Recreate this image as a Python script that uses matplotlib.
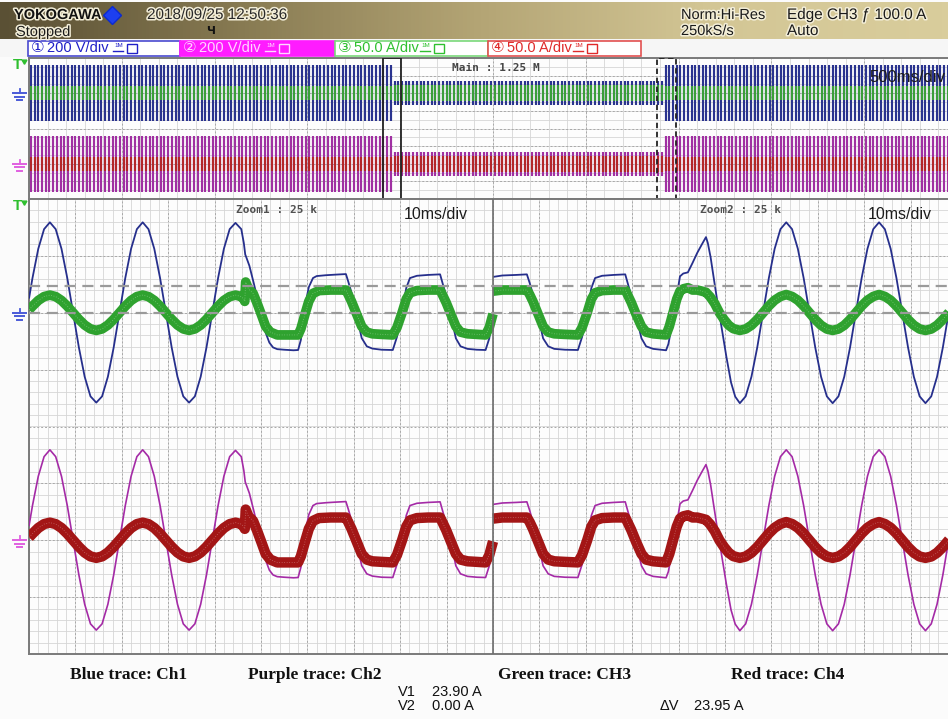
import numpy as np
import matplotlib
matplotlib.use("Agg")
import matplotlib.pyplot as plt
from matplotlib.patches import Rectangle
from matplotlib.colors import LinearSegmentedColormap
import matplotlib.patheffects as pe

# ---------------- data ----------------
channel_nums = ["\u2460", "\u2461", "\u2462", "\u2463"]
channel_scales = ["200 V/div", "200 V/div", "50.0 A/div", "50.0 A/div"]
units_per_div = [200.0, 200.0, 50.0, 50.0]      # Ch1, Ch2 (V) ; Ch3, Ch4 (A)
ground_div = [2.0, -2.0, 2.0, -2.0]

header_brand = "YOKOGAWA"
header_date = "2018/09/25 12:50:36"
header_state = "Stopped"
header_acq = ["Norm:Hi-Res", "250kS/s"]
header_trig = ["Edge CH3 \u0192 100.0 A", "Auto"]
main_label = "Main : 1.25 M"
main_timebase = "500ms/div"
zoom_labels = ["Zoom1 : 25 k", "Zoom2 : 25 k"]
zoom_timebase = "10ms/div"
legend_texts = ["Blue trace: Ch1", "Purple trace: Ch2", "Green trace: CH3", "Red trace: Ch4"]
cursor_names = ["V1", "V2", "\u0394V"]
cursor_values = ["23.90 A", "0.00 A", "23.95 A"]
cursor_levels_a = [23.9, 0.0]   # on Ch3

# main window: 5 s record, 50 Hz cycles drawn as envelope stripes
main_record_s = 5.0
main_fundamental_hz = 50
main_seg_edges_s = [0.0, 1.9525, 3.4225, 5.0]
ch1_main_peak = [318, 135, 318]
ch2_main_peak = [318, 135, 318]
ch3_main_peak = [20, 22, 20]
ch4_main_peak = [20, 22, 20]
zoom_centers_s = [1.956, 3.435]
zoom_span_s = 0.1

# zoom windows (t in ms, value in V or A)
ch1_zoom1 = [(0.0, 50), (0.75, 122), (2.0, 225), (3.25, 294), (4.5, 318), (5.75, 294), (7.0, 225),
             (8.25, 122), (9.5, 0), (10.75, -122), (12.0, -225), (13.25, -294), (14.5, -316),
             (15.75, -294), (17.0, -225), (18.25, -122), (19.5, 0), (20.75, 122), (22.0, 225),
             (23.25, 294), (24.5, 318), (25.75, 294), (27.0, 225), (28.25, 122), (29.5, 0),
             (30.75, -122), (32.0, -225), (33.25, -294), (34.5, -316), (35.75, -294), (37.0, -225),
             (38.25, -122), (39.5, 0), (40.75, 122), (42.0, 225), (43.25, 294), (44.5, 316),
             (45.75, 294), (46.3, 245), (46.6, 205), (46.9, 192), (47.5, 165), (48.5, 100),
             (49.5, 30), (50.3, -20), (51.0, -70), (51.8, -105), (52.6, -122), (53.5, -128),
             (55.0, -130), (57.0, -132), (58.0, -131), (58.6, -95), (59.5, 25), (60.3, 90),
             (61.2, 122), (62.0, 129), (64.0, 132), (66.0, 134), (68.3, 136), (68.8, 110),
             (69.5, 71), (70.6, -8), (71.7, -89), (72.8, -118), (74.0, -126), (76.0, -130),
             (78.4, -131), (79.3, -85), (80.4, 0), (81.3, 87), (82.1, 122), (83.6, 130),
             (86.0, 133), (88.6, 135), (89.2, 100), (89.9, 60), (91.0, -15), (92.0, -90),
             (93.0, -118), (94.5, -127), (96.5, -130), (98.4, -131), (99.2, -90), (100.0, -5)]
ch3_zoom1 = [(0.0, 2.5), (0.75, 5.8), (2.0, 10.8), (3.25, 14.2), (4.5, 15.5), (5.75, 14.2),
             (7.0, 10.8), (8.25, 5.8), (9.5, 0), (10.75, -5.8), (12.0, -10.8), (13.25, -14.2),
             (14.5, -15.5), (15.75, -14.2), (17.0, -10.8), (18.25, -5.8), (19.5, 0), (20.75, 5.8),
             (22.0, 10.8), (23.25, 14.2), (24.5, 15.5), (25.75, 14.2), (27.0, 10.8), (28.25, 5.8),
             (29.5, 0), (30.75, -5.8), (32.0, -10.8), (33.25, -14.2), (34.5, -15.5), (35.75, -14.2),
             (37.0, -10.8), (38.25, -5.8), (39.5, 0), (40.75, 5.8), (42.0, 10.8), (43.25, 14.2),
             (44.5, 15.5), (45.75, 14.2), (46.3, 12), (46.5, 10), (46.7, 27), (47.3, 21),
             (48.3, 17), (49.2, 8), (50.2, -3), (51.0, -12), (52.0, -17), (53.5, -19.5),
             (56.0, -19.5), (58.0, -19.5), (58.6, -14), (59.5, -1), (60.3, 10), (61.2, 17),
             (62.5, 19.5), (65.0, 20), (68.3, 20), (68.8, 16), (69.5, 10), (70.6, -1), (71.7, -12),
             (72.8, -17), (74.0, -18.5), (76.0, -19), (78.4, -19.5), (79.3, -13), (80.4, 0),
             (81.3, 12), (82.1, 17.5), (83.6, 19.5), (86.0, 20), (88.6, 20), (89.2, 15), (89.9, 9),
             (91.0, -2), (92.0, -12), (93.0, -17), (94.5, -18.5), (96.5, -19), (98.4, -19.5),
             (99.2, -13), (100.0, -1)]
ch1_zoom2 = [(0.0, 126), (2.0, 131), (5.0, 133), (7.3, 135), (7.9, 105), (8.6, 65), (9.7, -10),
             (10.8, -90), (11.9, -118), (13.2, -127), (15.5, -130), (18.3, -131), (19.2, -85),
             (20.3, 0), (21.2, 87), (22.0, 122), (23.5, 130), (26.0, 133), (28.5, 135), (29.1, 100),
             (29.8, 60), (30.9, -15), (32.0, -90), (33.0, -118), (34.5, -127), (37.3, -132),
             (37.8, -110), (38.6, -40), (39.4, 40), (40.3, 128), (41.0, 138), (42.0, 142),
             (43.0, 175), (44.0, 210), (45.0, 240), (45.9, 266), (46.3, 245), (46.9, 195),
             (47.5, 130), (48.3, 45), (49.3, -55), (50.3, -155), (51.3, -245), (52.2, -295),
             (53.2, -318), (54.45, -294), (55.7, -225), (56.95, -122), (58.2, 0), (59.45, 122),
             (60.7, 225), (61.95, 294), (63.2, 318), (64.45, 294), (65.7, 225), (66.95, 122),
             (68.2, 0), (69.45, -122), (70.7, -225), (71.95, -294), (73.2, -318), (74.45, -294),
             (75.7, -225), (76.95, -122), (78.2, 0), (79.45, 122), (80.7, 225), (81.95, 294),
             (83.2, 318), (84.45, 294), (85.7, 225), (86.95, 122), (88.2, 0), (89.45, -122),
             (90.7, -225), (91.95, -294), (93.2, -318), (94.45, -294), (95.7, -225), (96.95, -122),
             (98.2, 0), (99.45, 122), (100.0, 170)]
ch3_zoom2 = [(0.0, 19), (2.0, 20), (5.0, 20), (7.3, 20), (7.9, 16), (8.6, 10), (9.7, -1),
             (10.8, -12), (11.9, -17), (13.2, -18.5), (15.5, -19), (18.3, -19.5), (19.2, -13),
             (20.3, 0), (21.2, 12), (22.0, 17.5), (23.5, 19.5), (26.0, 20), (28.5, 20), (29.1, 15),
             (29.8, 9), (30.9, -2), (32.0, -12), (33.0, -17), (34.5, -18.5), (37.3, -19.5),
             (38.0, -12), (38.8, 0), (39.6, 12), (40.3, 19), (41.0, 21), (42.0, 22), (43.0, 20),
             (44.0, 20), (45.0, 19), (45.9, 18), (46.8, 14), (47.8, 8), (48.8, 0), (49.8, -6),
             (50.8, -11), (51.8, -14), (53.2, -15.5), (54.45, -14.3), (55.7, -11), (56.95, -6),
             (58.2, 0), (59.45, 6), (60.7, 11), (61.95, 14.3), (63.2, 16), (64.45, 14.3),
             (65.7, 11), (66.95, 6), (68.2, 0), (69.45, -6), (70.7, -11), (71.95, -14.3),
             (73.2, -15.5), (74.45, -14.3), (75.7, -11), (76.95, -6), (78.2, 0), (79.45, 6),
             (80.7, 11), (81.95, 14.3), (83.2, 16), (84.45, 14.3), (85.7, 11), (86.95, 6),
             (88.2, 0), (89.45, -6), (90.7, -11), (91.95, -14.3), (93.2, -15.5), (94.45, -14.3),
             (95.7, -11), (96.95, -6), (98.2, 0), (99.45, 6), (100.0, 8)]
# Ch2 / Ch4 follow Ch1 / Ch3 in this capture
ch2_zoom1 = list(ch1_zoom1)
ch2_zoom2 = list(ch1_zoom2)
ch4_zoom1 = list(ch3_zoom1)
ch4_zoom2 = list(ch3_zoom2)

# ---------------- style ----------------
W, H, DPI = 948, 719, 100
C_BLUE, C_PURPLE, C_GREEN, C_RED = "#262f8c", "#a42aa6", "#2fa22f", "#a31616"
C_BLUE_M, C_PURPLE_M, C_GREEN_M, C_RED_M = "#2a338f", "#a030a2", "#3a9e3a", "#b3262a"
SANS = ["Liberation Sans", "DejaVu Sans"]
MONO = ["DejaVu Sans Mono"]
SYM = ["DejaVu Sans", "Noto Sans CJK JP"]

fig = plt.figure(figsize=(W / DPI, H / DPI), dpi=DPI)
fig.patch.set_facecolor("#fbfbfb")

ov = fig.add_axes([0, 0, 1, 1])
ov.set_zorder(-1)
ov.axis("off")

# header gradient
grad = np.linspace(0, 1, 256)[None, :]
hcmap = LinearSegmentedColormap.from_list("hdr", ["#5a5034", "#877a52", "#b3a474", "#d3c695", "#d9cd9c"])
ov.imshow(grad, cmap=hcmap, extent=[0, W, 39, 2], aspect="auto", interpolation="bilinear")
ov.set_xlim(0, W)
ov.set_ylim(H, 0)

halo = [pe.withStroke(linewidth=2.2, foreground="#f3eed8")]
ov.text(14, 15, header_brand, fontfamily=SANS, fontweight="bold", fontsize=10.5, va="center",
        color="#111111", path_effects=halo)
ov.plot([112], [15], marker="D", markersize=9, color="#1d3ff0", mec="#0b2ad0")
ov.text(147, 15, header_date, fontfamily=SANS, fontsize=11, va="center", color="#2a2a2a",
        path_effects=halo)
ov.text(16, 32, header_state, fontfamily=SANS, fontsize=10.5, va="center", color="#1a1a1a",
        path_effects=halo)
ov.text(211, 31, "\u0427", fontfamily=SYM, fontsize=8, fontweight="bold", ha="center", va="center",
        color="#111111")
for i, s in enumerate(header_acq):
    ov.text(681, 15 + 16 * i, s, fontfamily=SANS, fontsize=10.5, va="center", color="#1a1a1a",
            path_effects=halo)
for i, s in enumerate(header_trig):
    ov.text(787, 15 + 16 * i, s, fontfamily=SANS, fontsize=11, va="center", color="#1a1a1a",
            path_effects=halo)

# channel bar
ov.add_patch(Rectangle((0, 39), W, 18, facecolor="#f6f6f6", edgecolor="none"))
box_x = [28, 180, 335, 488]
box_w = [152, 155, 153, 153]
box_face = ["#ffffff", "#ff1cff", "#ffffff", "#ffffff"]
box_edge = ["#4a4ad0", "#ff1cff", "#7ad87a", "#e25050"]
box_text = ["#2020c8", "#ffd6ff", "#2fc02f", "#e02a2a"]
for i in range(4):
    ov.add_patch(Rectangle((box_x[i], 40.5), box_w[i], 15, facecolor=box_face[i],
                           edgecolor=box_edge[i], lw=1.2))
    ov.text(box_x[i] + 3, 48, channel_nums[i], fontfamily=SYM, fontsize=11, va="center",
            color=box_text[i])
    ov.text(box_x[i] + 19, 48, channel_scales[i], fontfamily=SANS, fontsize=10.5, va="center",
            color=box_text[i])
    ov.text(box_x[i] + 86, 45.5, "1M", fontfamily=SANS, fontsize=4.5, va="center",
            color=box_text[i])
    ov.plot([box_x[i] + 85, box_x[i] + 95], [50.5, 50.5], color=box_text[i], lw=1)
    ov.add_patch(Rectangle((box_x[i] + 99, 43.5), 10, 9, facecolor="none",
                           edgecolor=box_text[i], lw=1))

# ---------------- axes ----------------
left_px, right_px = 29, 957
main_top, main_bot = 58, 199
zoom_top, zoom_bot = 199, 654
ax_main = fig.add_axes([left_px / W, 1 - main_bot / H, (right_px - left_px) / W, (main_bot - main_top) / H])
ax_zoom = fig.add_axes([left_px / W, 1 - zoom_bot / H, (right_px - left_px) / W, (zoom_bot - zoom_top) / H])


def grid(ax, x0, x1, minor, major, yminor):
    ax.set_facecolor("#fdfdfd")
    for x in np.arange(x0, x1 + 1e-9, minor):
        ax.axvline(x, color="#d6d6d6", lw=0.6, zorder=0)
    for x in np.arange(x0, x1 + 1e-9, major):
        ax.axvline(x, color="#a8a8a8", lw=0.7, ls=(0, (2, 2)), zorder=0)
    for y in np.arange(-4, 4 + 1e-9, yminor):
        ax.axhline(y, color="#d6d6d6", lw=0.6, zorder=0)
    for y in np.arange(-4, 4 + 1e-9, 1.0):
        ax.axhline(y, color="#a8a8a8", lw=0.7, ls=(0, (2, 2)), zorder=0)
    ax.set_xlim(x0, x1)
    ax.set_ylim(-4, 4)
    ax.set_xticks([])
    ax.set_yticks([])
    for sp in ax.spines.values():
        sp.set_color("#7a7a7a")
        sp.set_linewidth(1.4)


grid(ax_main, 0, main_record_s, 0.1, 0.5, 0.5)
grid(ax_zoom, 0, 200, 2, 10, 0.2)


def to_div(vals, ch):
    return ground_div[ch] + np.asarray(vals, float) / units_per_div[ch]


# main window stripes
n_cycles = int(main_record_s * main_fundamental_hz)
t_cyc = (np.arange(n_cycles) + 0.5) / main_fundamental_hz
seg = np.searchsorted(main_seg_edges_s, t_cyc, side="right") - 1
for ch, peaks, col, z in [(0, ch1_main_peak, C_BLUE_M, 2), (1, ch2_main_peak, C_PURPLE_M, 2),
                          (2, ch3_main_peak, C_GREEN_M, 3), (3, ch4_main_peak, C_RED_M, 3)]:
    amp = np.asarray(peaks, float)[seg]
    ax_main.vlines(t_cyc, to_div(-amp, ch), to_div(amp, ch), colors=col, lw=1.55, zorder=z)

for i, c in enumerate(zoom_centers_s):
    ax_main.add_patch(Rectangle((c - zoom_span_s / 2, -4), zoom_span_s, 8, facecolor="none",
                                edgecolor="#222222", lw=1.3, ls="-" if i == 0 else (0, (3, 2)),
                                zorder=6))
ax_main.text(2.28, 3.45, main_label, fontfamily=MONO, fontsize=8, fontweight="bold",
             color="#454545", va="center", zorder=7)
ax_main.text(0.987, 0.86, main_timebase, transform=ax_main.transAxes, fontfamily=SANS,
             fontsize=12, color="#1c1c1c", ha="right", va="center", zorder=7)

# zoom window traces
for ch, d1, d2, col, lw, z in [(0, ch1_zoom1, ch1_zoom2, C_BLUE, 1.3, 3),
                               (1, ch2_zoom1, ch2_zoom2, C_PURPLE, 1.2, 3),
                               (2, ch3_zoom1, ch3_zoom2, C_GREEN, 7.0, 4),
                               (3, ch4_zoom1, ch4_zoom2, C_RED, 7.5, 4)]:
    for off, data in [(0, d1), (100, d2)]:
        t = np.array([p[0] for p in data]) + off
        v = to_div([p[1] for p in data], ch)
        ax_zoom.plot(t, v, color=col, lw=lw, zorder=z, solid_joinstyle="round",
                     solid_capstyle="butt")
        if lw > 3:
            ax_zoom.plot(t, v, color="#ffffff", lw=0.6, alpha=0.35, zorder=z, ls=(0, (1, 2)))

for lvl in cursor_levels_a:
    ax_zoom.axhline(to_div([lvl], 2)[0], color="#9a9a9a", lw=1.6, ls=(0, (5, 3)), zorder=6)
ax_zoom.axvline(100, color="#6e6e6e", lw=1.2, zorder=5)
for i, off in enumerate([0, 100]):
    ax_zoom.text(off + 44.6, 3.8, zoom_labels[i], fontfamily=MONO, fontsize=8, fontweight="bold",
                 color="#505050", va="center", zorder=7)
    ax_zoom.text(off + 94.6, 3.72, zoom_timebase, fontfamily=SANS, fontsize=11.5,
                 color="#1c1c1c", ha="right", va="center", zorder=7)

# ---------------- left markers ----------------
def ypix(ax, div):
    return H - ax.transData.transform((0, div))[1]


def ground(y, color):
    x = 20
    ov.plot([x, x], [y - 4, y], color=color, lw=1.3)
    ov.plot([x - 6.5, x + 6.5], [y, y], color=color, lw=1.4)
    ov.plot([x - 4.5, x + 4.5], [y + 3.5, y + 3.5], color=color, lw=1.4)
    ov.plot([x - 2.5, x + 2.5], [y + 7, y + 7], color=color, lw=1.4)


for ax in (ax_main, ax_zoom):
    ground(ypix(ax, ground_div[0]), "#4a5ad8")
    ground(ypix(ax, ground_div[1]), "#e060e0")
for top in (main_top, zoom_top):
    ov.text(18, top + 7, "T", fontfamily=SANS, fontsize=11, color="#2fbf2f", ha="center",
            va="center", fontweight="bold")
    ov.plot([24.5], [top + 2.5], marker=(3, 0, 180), markersize=4, color="#2fbf2f")

# ---------------- bottom texts ----------------
legend_x = [70, 248, 498, 731]
for x, s in zip(legend_x, legend_texts):
    ov.text(x, 675, s, fontfamily=["Liberation Serif", "DejaVu Serif"], fontweight="bold",
            fontsize=12.5, va="center", color="#111111")
cur_pos = [(398, 692), (398, 706), (660, 706)]
for (x, y), n, v in zip(cur_pos, cursor_names, cursor_values):
    ov.text(x, y, n, fontfamily=SANS, fontsize=10.5, va="center", color="#111111")
    ov.text(x + 34, y, v, fontfamily=SANS, fontsize=10.5, va="center", color="#111111")

fig.savefig("out.png", dpi=DPI)
